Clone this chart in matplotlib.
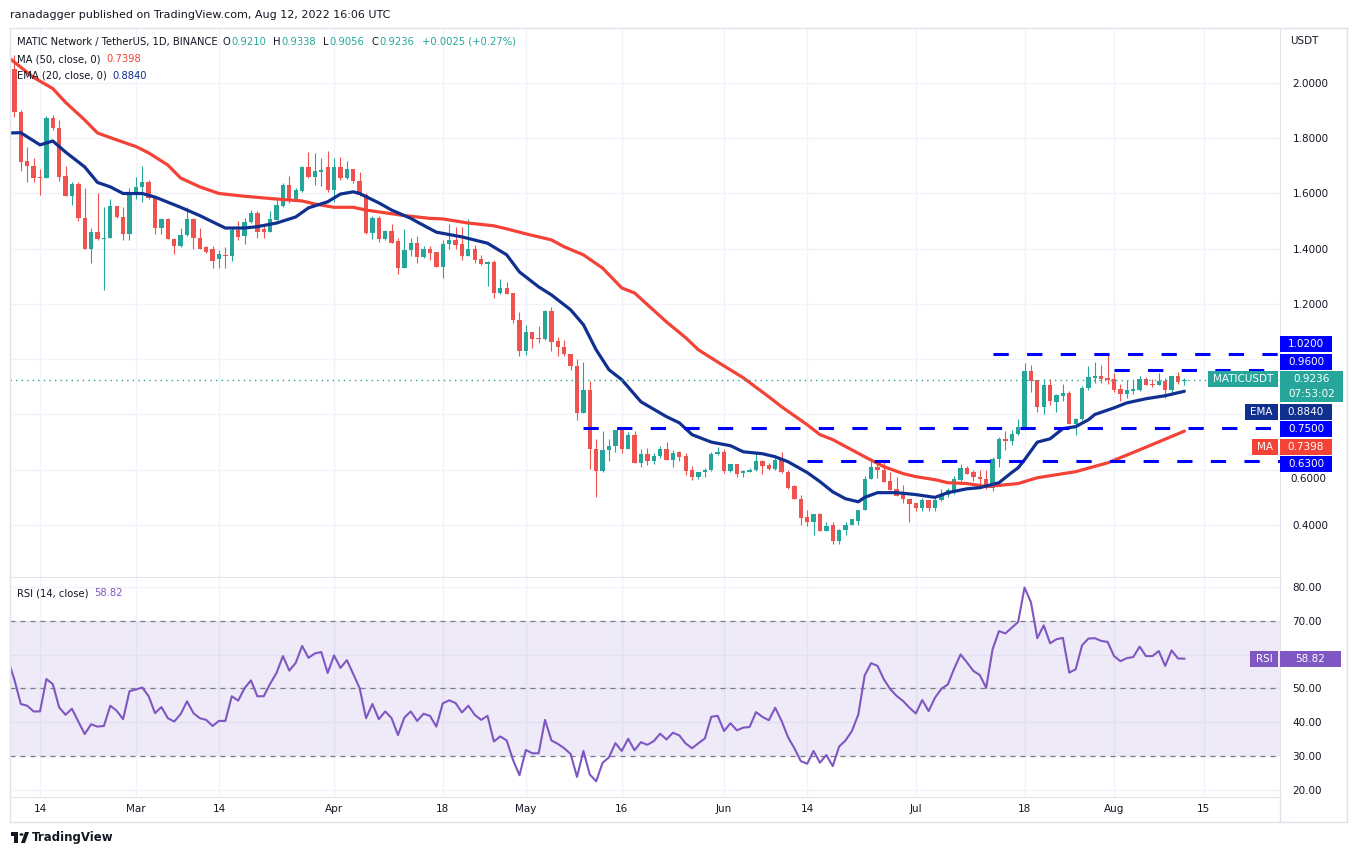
import numpy as np
import pandas as pd
import matplotlib
matplotlib.use("Agg")
import matplotlib.pyplot as plt
import matplotlib.dates as mdates
from matplotlib.patches import Rectangle, Polygon, Circle

W, H = 1358, 856

# daily candles 2022-02-09 .. 2022-08-12 (first one is cut by the left edge)
opens = [
    1.95, 2.05, 1.895, 1.717, 1.70, 1.66, 1.656, 1.873, 1.837, 1.663, 1.59, 1.635, 1.51, 1.40, 1.46, 1.435, 1.44, 1.553, 1.515, 1.455,
    1.605, 1.625, 1.64, 1.587, 1.475, 1.508, 1.435, 1.41, 1.45, 1.508, 1.44, 1.405, 1.40, 1.362, 1.378, 1.372, 1.468, 1.445, 1.497, 1.53, 1.472, 1.462, 1.505, 1.555, 1.63, 1.577, 1.61, 1.696, 1.66, 1.678, 1.696,
    1.614, 1.696, 1.656, 1.69, 1.646, 1.595, 1.457, 1.51, 1.435, 1.465, 1.428, 1.33, 1.396, 1.42, 1.37, 1.40, 1.388, 1.335, 1.418, 1.43, 1.418, 1.375, 1.40, 1.363, 1.345, 1.352, 1.24, 1.258, 1.24, 1.143,
    1.03, 1.10, 1.078, 1.075, 1.175, 1.066, 1.045, 1.02, 0.976, 0.806, 0.89, 0.676, 0.597, 0.67, 0.687, 0.745, 0.675, 0.727, 0.625, 0.658, 0.633, 0.65, 0.676, 0.637, 0.665, 0.648, 0.60, 0.572, 0.59, 0.598, 0.658,
    0.663, 0.597, 0.622, 0.588, 0.593, 0.60, 0.633, 0.617, 0.603, 0.637, 0.592, 0.542, 0.495, 0.428, 0.41, 0.44, 0.38, 0.40, 0.343, 0.382, 0.40, 0.416, 0.455, 0.566, 0.61, 0.60, 0.56, 0.53, 0.51, 0.495,
    0.48, 0.46, 0.492, 0.46, 0.49, 0.51, 0.526, 0.562, 0.607, 0.59, 0.572, 0.565, 0.535, 0.64, 0.71, 0.705, 0.73, 0.752, 0.958, 0.925, 0.828, 0.908, 0.847, 0.868, 0.878, 0.767, 0.782, 0.895, 0.933, 0.94, 0.933,
    0.93, 0.893, 0.875, 0.886, 0.89, 0.928, 0.912, 0.905, 0.922, 0.89, 0.94, 0.9210,
]
highs = [
    2.08, 2.10, 1.902, 1.77, 1.73, 1.69, 1.88, 1.885, 1.866, 1.70, 1.643, 1.64, 1.62, 1.475, 1.60, 1.55, 1.58, 1.555, 1.55, 1.62,
    1.66, 1.70, 1.65, 1.59, 1.51, 1.51, 1.44, 1.475, 1.55, 1.51, 1.475, 1.41, 1.41, 1.397, 1.405, 1.475, 1.50, 1.51, 1.54, 1.537, 1.485, 1.536, 1.575, 1.638, 1.665, 1.62, 1.70, 1.75, 1.745, 1.73, 1.755,
    1.73, 1.733, 1.718, 1.69, 1.678, 1.60, 1.52, 1.52, 1.468, 1.49, 1.44, 1.47, 1.44, 1.445, 1.41, 1.41, 1.39, 1.43, 1.49, 1.48, 1.48, 1.508, 1.415, 1.378, 1.355, 1.36, 1.29, 1.28, 1.24, 1.17,
    1.125, 1.10, 1.12, 1.178, 1.19, 1.08, 1.07, 1.02, 1.00, 0.99, 0.92, 0.713, 0.74, 0.71, 0.745, 0.75, 0.735, 0.74, 0.675, 0.678, 0.66, 0.687, 0.70, 0.67, 0.668, 0.66, 0.612, 0.593, 0.607, 0.665, 0.683,
    0.674, 0.622, 0.622, 0.60, 0.607, 0.66, 0.637, 0.625, 0.65, 0.664, 0.60, 0.545, 0.51, 0.455, 0.44, 0.445, 0.41, 0.41, 0.384, 0.412, 0.423, 0.455, 0.578, 0.635, 0.63, 0.63, 0.59, 0.575, 0.545, 0.495,
    0.48, 0.497, 0.492, 0.497, 0.532, 0.535, 0.578, 0.62, 0.612, 0.60, 0.60, 0.60, 0.647, 0.72, 0.74, 0.745, 0.785, 0.985, 0.98, 0.925, 0.93, 0.93, 0.875, 0.91, 0.885, 0.787, 0.903, 0.975, 0.99, 0.98, 1.02,
    0.95, 0.91, 0.925, 0.925, 0.94, 0.935, 0.93, 0.95, 0.932, 0.94, 0.955, 0.9338,
]
lows = [
    1.93, 1.877, 1.68, 1.64, 1.64, 1.595, 1.656, 1.83, 1.647, 1.59, 1.56, 1.50, 1.40, 1.35, 1.43, 1.25, 1.44, 1.51, 1.43, 1.43,
    1.58, 1.57, 1.58, 1.455, 1.455, 1.435, 1.38, 1.405, 1.445, 1.40, 1.40, 1.385, 1.33, 1.33, 1.33, 1.355, 1.43, 1.418, 1.495, 1.44, 1.44, 1.46, 1.503, 1.552, 1.565, 1.573, 1.607, 1.655, 1.63, 1.628, 1.607,
    1.57, 1.65, 1.652, 1.637, 1.59, 1.455, 1.437, 1.425, 1.433, 1.42, 1.31, 1.33, 1.373, 1.35, 1.365, 1.36, 1.335, 1.295, 1.40, 1.40, 1.36, 1.372, 1.35, 1.34, 1.266, 1.22, 1.235, 1.235, 1.13, 1.01,
    1.015, 1.04, 1.06, 1.07, 1.03, 1.01, 1.01, 0.96, 0.78, 0.806, 0.604, 0.503, 0.59, 0.63, 0.665, 0.66, 0.675, 0.623, 0.61, 0.617, 0.62, 0.642, 0.635, 0.61, 0.633, 0.58, 0.563, 0.565, 0.575, 0.597, 0.655,
    0.587, 0.592, 0.575, 0.575, 0.59, 0.597, 0.585, 0.60, 0.60, 0.587, 0.53, 0.495, 0.40, 0.395, 0.365, 0.378, 0.378, 0.33, 0.33, 0.365, 0.40, 0.40, 0.455, 0.565, 0.57, 0.555, 0.525, 0.505, 0.48, 0.41,
    0.45, 0.45, 0.45, 0.452, 0.488, 0.50, 0.513, 0.56, 0.585, 0.56, 0.55, 0.53, 0.522, 0.61, 0.67, 0.69, 0.725, 0.748, 0.88, 0.81, 0.80, 0.835, 0.81, 0.85, 0.765, 0.725, 0.78, 0.89, 0.915, 0.913, 0.91,
    0.883, 0.85, 0.86, 0.875, 0.885, 0.905, 0.90, 0.905, 0.86, 0.87, 0.91, 0.9056,
]
closes = [
    2.05, 1.895, 1.714, 1.70, 1.656, 1.656, 1.873, 1.837, 1.66, 1.59, 1.635, 1.51, 1.40, 1.46, 1.435, 1.44, 1.553, 1.515, 1.455, 1.605,
    1.625, 1.64, 1.585, 1.475, 1.508, 1.435, 1.41, 1.45, 1.508, 1.44, 1.40, 1.39, 1.355, 1.38, 1.372, 1.468, 1.443, 1.497, 1.53, 1.462, 1.462, 1.508, 1.558, 1.63, 1.573, 1.613, 1.696, 1.66, 1.68, 1.686, 1.613,
    1.696, 1.656, 1.69, 1.646, 1.595, 1.457, 1.51, 1.435, 1.465, 1.422, 1.33, 1.396, 1.42, 1.37, 1.40, 1.385, 1.335, 1.418, 1.43, 1.415, 1.375, 1.40, 1.36, 1.345, 1.352, 1.24, 1.258, 1.237, 1.143, 1.03,
    1.10, 1.075, 1.074, 1.175, 1.063, 1.045, 1.02, 0.974, 0.806, 0.89, 0.676, 0.597, 0.67, 0.687, 0.743, 0.675, 0.727, 0.625, 0.658, 0.633, 0.65, 0.676, 0.637, 0.66, 0.645, 0.597, 0.572, 0.59, 0.60, 0.658, 0.666,
    0.597, 0.622, 0.586, 0.597, 0.60, 0.633, 0.615, 0.603, 0.637, 0.59, 0.535, 0.495, 0.426, 0.41, 0.44, 0.38, 0.397, 0.343, 0.382, 0.40, 0.42, 0.455, 0.566, 0.61, 0.60, 0.557, 0.528, 0.506, 0.495, 0.477,
    0.462, 0.49, 0.46, 0.49, 0.512, 0.528, 0.565, 0.607, 0.586, 0.572, 0.565, 0.535, 0.64, 0.71, 0.705, 0.73, 0.755, 0.958, 0.922, 0.828, 0.908, 0.85, 0.872, 0.878, 0.767, 0.785, 0.897, 0.937, 0.94, 0.93, 0.925,
    0.89, 0.875, 0.89, 0.893, 0.928, 0.905, 0.908, 0.922, 0.89, 0.94, 0.918, 0.9236,
]
rsi = [
    58.5, 52.6, 45.4, 44.9, 43.2, 43.2, 52.8, 51.3, 44.4, 42.2, 44.0, 40.2, 36.5, 39.4, 38.7, 38.9, 44.9, 43.4, 40.9, 49.2,
    49.7, 50.3, 47.7, 42.7, 44.5, 41.2, 40.2, 42.4, 46.2, 42.7, 41.2, 40.7, 38.9, 40.4, 40.4, 47.7, 46.4, 50.1, 52.4, 47.7, 47.7, 51.4, 54.6, 59.6, 55.3, 57.6, 62.6, 59.1, 60.4, 60.8, 54.6,
    59.8, 56.1, 58.4, 54.3, 50.1, 41.2, 45.4, 40.9, 43.2, 41.2, 36.2, 41.4, 43.2, 40.4, 42.5, 41.9, 38.7, 45.6, 46.5, 45.7, 42.9, 44.9, 42.2, 40.7, 41.9, 34.3, 35.8, 34.6, 28.8, 24.3,
    31.8, 30.8, 30.8, 40.7, 34.6, 33.6, 32.3, 30.6, 23.8, 31.5, 24.5, 22.5, 28.0, 29.6, 33.8, 31.5, 35.1, 31.7, 34.1, 33.3, 34.4, 36.6, 34.9, 36.9, 36.1, 33.7, 32.3, 33.8, 35.2, 41.6, 41.9,
    37.4, 39.7, 37.6, 38.4, 38.6, 43.0, 41.6, 40.6, 44.3, 40.4, 35.6, 32.3, 28.5, 27.7, 31.5, 28.0, 30.3, 27.0, 32.8, 34.6, 37.4, 42.3, 53.9, 57.5, 56.7, 52.7, 49.8, 47.8, 46.3, 44.3,
    42.6, 46.6, 43.3, 47.3, 49.9, 51.2, 55.9, 60.1, 57.7, 55.2, 54.0, 50.2, 61.6, 67.0, 66.3, 68.0, 69.7, 79.9, 75.6, 64.9, 68.7, 63.4, 64.6, 65.0, 54.7, 55.7, 62.8, 64.8, 64.9, 64.1, 63.8,
    59.6, 58.1, 59.0, 59.3, 62.4, 59.6, 59.6, 61.1, 56.7, 61.3, 58.9, 58.82,
]

# MA(50) and EMA(20) at a subset of days
ma_dates = ["2022-02-09", "2022-02-13", "2022-02-16", "2022-02-18", "2022-02-21", "2022-02-23", "2022-02-26",
            "2022-03-01", "2022-03-03", "2022-03-06", "2022-03-08", "2022-03-11", "2022-03-14", "2022-03-18", "2022-03-23", "2022-03-27", "2022-03-29",
            "2022-04-01", "2022-04-04", "2022-04-06", "2022-04-09", "2022-04-12", "2022-04-16", "2022-04-18", "2022-04-22", "2022-04-26", "2022-04-28",
            "2022-05-01", "2022-05-05", "2022-05-07", "2022-05-10", "2022-05-13", "2022-05-16", "2022-05-18", "2022-05-23", "2022-05-26", "2022-05-28", "2022-05-31",
            "2022-06-04", "2022-06-08", "2022-06-10", "2022-06-14", "2022-06-16", "2022-06-18", "2022-06-23", "2022-06-26", "2022-06-29",
            "2022-07-01", "2022-07-04", "2022-07-06", "2022-07-09", "2022-07-12", "2022-07-17", "2022-07-20", "2022-07-26", "2022-07-31",
            "2022-08-05", "2022-08-12"]
ma_vals = [2.094, 2.02, 1.98, 1.93, 1.866, 1.819, 1.794,
           1.77, 1.747, 1.703, 1.656, 1.624, 1.60, 1.59, 1.58, 1.573, 1.562,
           1.55, 1.55, 1.54, 1.53, 1.52, 1.51, 1.508, 1.493, 1.483, 1.472,
           1.454, 1.432, 1.407, 1.378, 1.33, 1.258, 1.24, 1.135, 1.078, 1.034, 0.99,
           0.933, 0.864, 0.828, 0.763, 0.727, 0.709, 0.647, 0.611, 0.586,
           0.575, 0.564, 0.553, 0.55, 0.539, 0.55, 0.571, 0.593, 0.625,
           0.672, 0.7398]
ema_dates = ["2022-02-09", "2022-02-11", "2022-02-14", "2022-02-16", "2022-02-18", "2022-02-21", "2022-02-23", "2022-02-25", "2022-02-27",
             "2022-03-02", "2022-03-04", "2022-03-08", "2022-03-11", "2022-03-14", "2022-03-15", "2022-03-18", "2022-03-20", "2022-03-23", "2022-03-26", "2022-03-28", "2022-03-31",
             "2022-04-02", "2022-04-04", "2022-04-05", "2022-04-08", "2022-04-10", "2022-04-13", "2022-04-14", "2022-04-17", "2022-04-21", "2022-04-25", "2022-04-28", "2022-04-30",
             "2022-05-03", "2022-05-05", "2022-05-08", "2022-05-10", "2022-05-12", "2022-05-14", "2022-05-16", "2022-05-19", "2022-05-23", "2022-05-25", "2022-05-27", "2022-05-30",
             "2022-06-02", "2022-06-04", "2022-06-07", "2022-06-09", "2022-06-11", "2022-06-14", "2022-06-16", "2022-06-18", "2022-06-20", "2022-06-22", "2022-06-23", "2022-06-25", "2022-06-28",
             "2022-07-01", "2022-07-04", "2022-07-06", "2022-07-09", "2022-07-11", "2022-07-14", "2022-07-16", "2022-07-17", "2022-07-18", "2022-07-20", "2022-07-22", "2022-07-24", "2022-07-26", "2022-07-28", "2022-07-29",
             "2022-08-01", "2022-08-03", "2022-08-06", "2022-08-09", "2022-08-12"]
ema_vals = [1.819, 1.82, 1.776, 1.79, 1.75, 1.696, 1.64, 1.624, 1.60,
            1.60, 1.587, 1.55, 1.52, 1.486, 1.475, 1.475, 1.48, 1.493, 1.515, 1.548, 1.57,
            1.598, 1.606, 1.60, 1.566, 1.54, 1.51, 1.497, 1.46, 1.443, 1.42, 1.378, 1.316,
            1.262, 1.233, 1.179, 1.125, 1.034, 0.962, 0.926, 0.846, 0.792, 0.77, 0.727, 0.70,
            0.687, 0.665, 0.658, 0.647, 0.629, 0.59, 0.557, 0.52, 0.495, 0.484, 0.50, 0.517, 0.517,
            0.51, 0.50, 0.517, 0.531, 0.535, 0.553, 0.59, 0.607, 0.636, 0.70, 0.712, 0.749, 0.756, 0.781, 0.80,
            0.824, 0.842, 0.857, 0.868, 0.884]

levels = [1.02, 0.96, 0.75, 0.63]
level_start = ["2022-07-13", "2022-08-01", "2022-05-10", "2022-06-14"]

tick_dates = ["2022-02-14", "2022-03-01", "2022-03-14", "2022-04-01", "2022-04-18", "2022-05-01", "2022-05-16",
              "2022-06-01", "2022-06-14", "2022-07-01", "2022-07-18", "2022-08-01", "2022-08-15"]
tick_labels = ["14", "Mar", "14", "Apr", "18", "May", "16", "Jun", "14", "Jul", "18", "Aug", "15"]
price_ticks = [0.4, 0.6, 0.8, 1.0, 1.2, 1.4, 1.6, 1.8, 2.0]
rsi_ticks = [20, 30, 40, 50, 60, 70, 80]

GREEN = "#26a69a"
RED = "#ef5350"
MA_C = "#f44336"
EMA_C = "#10308f"
LEVEL_C = "#0000ff"
RSI_C = "#7e57c2"
TEXT = "#131722"
GRID = "#f0f3fa"
BORDER = "#e0e3eb"

plt.rcParams["font.family"] = ["DejaVu Sans"]
FS = 7.5
HFS = 7.2

dates = pd.date_range("2022-02-09", "2022-08-12", freq="D")
x = mdates.date2num(dates)
o = np.array(opens); h = np.array(highs); l = np.array(lows); c = np.array(closes)

fig = plt.figure(figsize=(W / 100, H / 100), dpi=100)
ax = fig.add_axes([10 / W, 1 - 577 / H, 1270 / W, 549 / H])
axr = fig.add_axes([10 / W, 1 - 797 / H, 1270 / W, 219 / H], sharex=ax)

feb14 = mdates.date2num(pd.Timestamp("2022-02-14"))
ax.set_xlim(feb14 - 4.69, feb14 + 193.96)
ax.set_ylim(0.2117, 2.1991)
axr.set_ylim(17.85, 82.74)

# candles
up = c >= o
col = np.where(up, GREEN, RED)
ax.vlines(x, l, h, colors=col, lw=0.8, zorder=2)
ax.bar(x, np.maximum(np.abs(c - o), 0.003), bottom=np.minimum(o, c), width=0.68,
       color=col, linewidth=0, zorder=3)

# moving averages
ax.plot(mdates.date2num(pd.to_datetime(ma_dates)), ma_vals, color=MA_C, lw=2.3, zorder=4,
        solid_capstyle="round")
ax.plot(mdates.date2num(pd.to_datetime(ema_dates)), ema_vals, color=EMA_C, lw=2.3, zorder=4,
        solid_capstyle="round")

# horizontal levels
x_right = ax.get_xlim()[1]
for lv, st in zip(levels, level_start):
    ax.plot([mdates.date2num(pd.Timestamp(st)), x_right], [lv, lv], color=LEVEL_C,
            lw=2.2, ls=(0, (5, 6)), zorder=5)
ax.axhline(closes[-1], color=GREEN, lw=1.0, ls=(0, (1, 3)), zorder=5)

# axes styling
tick_x = mdates.date2num(pd.to_datetime(tick_dates))
for a in (ax, axr):
    a.set_xticks(tick_x)
    a.grid(True, color=GRID, lw=1, zorder=0)
    a.set_axisbelow(True)
    a.yaxis.tick_right()
    a.tick_params(axis="y", length=0, pad=9, labelsize=FS, labelcolor=TEXT)
    for s in ("top", "left"):
        a.spines[s].set_visible(False)
    a.spines["right"].set_color(BORDER)
    a.spines["bottom"].set_color(BORDER)
ax.tick_params(axis="x", length=0, labelbottom=False)
axr.set_xticklabels(tick_labels)
axr.tick_params(axis="x", length=0, pad=5, labelsize=FS, labelcolor=TEXT)
ax.set_yticks(price_ticks)
axr.set_yticks(rsi_ticks)

# RSI pane
axr.axhspan(30, 70, color=RSI_C, alpha=0.12, lw=0, zorder=1)
for lv in (70, 50, 30):
    axr.axhline(lv, color="#787b86", lw=0.9, ls=(0, (4, 4)), zorder=2)
axr.plot(x, rsi, color=RSI_C, lw=1.5, zorder=3)


def fx(px):
    return px / W


def fy(py):
    return 1 - py / H


def box(x0, x1, top, hgt, color, lines, size=FS):
    fig.add_artist(Rectangle((fx(x0), fy(top + hgt)), (x1 - x0) / W, hgt / H,
                             transform=fig.transFigure, facecolor=color,
                             edgecolor="none", zorder=10))
    for i, t in enumerate(lines):
        fig.text(fx((x0 + x1) / 2), fy(top + 8 + i * 15), t, ha="center", va="center",
                 color="white", fontsize=size, zorder=11)


def ypix(a, v):
    return H - a.transData.transform((a.get_xlim()[0], v))[1]


# right-hand price labels, stacked so they do not overlap
GAP = 1.5
items = [dict(v=lv, h=16, kind="level") for lv in levels]
items.append(dict(v=closes[-1], h=31, kind="price"))
items.append(dict(v=ema_vals[-1], h=16, kind="ema"))
items.append(dict(v=ma_vals[-1], h=16, kind="ma"))
for it in items:
    it["ideal"] = ypix(ax, it["v"]) - 5


def block_top(b):
    off, s = 0, 0
    for it in b:
        s += it["ideal"] - off
        off += it["h"] + GAP
    return s / len(b)


blocks = []
for it in sorted(items, key=lambda d: d["ideal"]):
    blocks.append([it])
    while len(blocks) > 1:
        prev = blocks[-2]
        bottom = block_top(prev) + sum(i["h"] + GAP for i in prev)
        if block_top(blocks[-1]) < bottom:
            last = blocks.pop()
            blocks[-1].extend(last)
        else:
            break
for b in blocks:
    t = block_top(b)
    for it in b:
        it["top"] = t
        t += it["h"] + GAP

for it in items:
    t = it["top"]
    if it["kind"] == "level":
        box(1280, 1332, t, 16, LEVEL_C, [f"{it['v']:.4f}"])
    elif it["kind"] == "price":
        box(1280, 1343, t, 31, GREEN, [f"{it['v']:.4f}", "07:53:02"])
        box(1208, 1278, t, 16, GREEN, ["MATICUSDT"])
    elif it["kind"] == "ema":
        box(1280, 1332, t, 16, EMA_C, [f"{it['v']:.4f}"])
        box(1245, 1278, t, 16, EMA_C, ["EMA"])
    else:
        box(1280, 1332, t, 16, MA_C, [f"{it['v']:.4f}"])
        box(1252, 1278, t, 16, MA_C, ["MA"])

ry = ypix(axr, rsi[-1]) - 8
box(1280, 1341, ry, 16, RSI_C, [f"{rsi[-1]:.2f}"])
box(1250, 1278, ry, 16, RSI_C, ["RSI"])

# scale labels under a label box: hidden when fully covered,
# nudged just below the box when it only clips them (as 0.6000 on the original)
spans = [(it["top"], it["h"]) for it in items]
price_lbls = []
for v in price_ticks:
    yv = ypix(ax, v)
    hit = [(t, hh) for t, hh in spans if t - 5 <= yv <= t + hh + 5]
    if not hit:
        price_lbls.append(f"{v:.4f}")
        continue
    price_lbls.append("")
    t, hh = hit[0]
    if yv > t + hh - 4:
        fig.text(fx(1290), fy(t + hh + 6.5), f"{v:.4f}", fontsize=FS, color=TEXT,
                 va="center", ha="left")
ax.set_yticklabels(price_lbls)
axr.set_yticklabels(["" if ry - 5 <= ypix(axr, v) <= ry + 21 else f"{v:.2f}" for v in rsi_ticks])

# header texts
renderer = fig.canvas.get_renderer()


def row(x0, y, pieces, size=HFS):
    px = x0
    for text, color, gap in pieces:
        px += gap
        t = fig.text(fx(px), fy(y), text, color=color, fontsize=size, ha="left", va="center",
                     zorder=12)
        px = t.get_window_extent(renderer).x1


fig.text(fx(10), fy(15), "ranadagger published on TradingView.com, Aug 12, 2022 16:06 UTC",
         fontsize=8, color=TEXT, va="center")
row(17, 42, [("MATIC Network / TetherUS, 1D, BINANCE", TEXT, 0),
             ("O", TEXT, 5), (f"{opens[-1]:.4f}", GREEN, 1),
             ("H", TEXT, 7), (f"{highs[-1]:.4f}", GREEN, 1),
             ("L", TEXT, 7), (f"{lows[-1]:.4f}", GREEN, 1),
             ("C", TEXT, 7), (f"{closes[-1]:.4f}", GREEN, 1),
             ("+0.0025 (+0.27%)", GREEN, 7)])
row(17, 59, [("MA (50, close, 0)", TEXT, 0), (f"{ma_vals[-1]:.4f}", MA_C, 6)])
row(17, 76, [("EMA (20, close, 0)", TEXT, 0), (f"{ema_vals[-1]:.4f}", EMA_C, 6)])
row(17, 593, [("RSI (14, close)", TEXT, 0), (f"{rsi[-1]:.2f}", RSI_C, 6)])
fig.text(fx(1290), fy(41), "USDT", fontsize=FS, color=TEXT, va="center")

# frame
for (x0, y0, x1, y1) in [(10, 28, 1347, 28), (10, 28, 10, 822), (1347, 28, 1347, 822),
                         (10, 822, 1347, 822), (1280, 797, 1280, 822)]:
    fig.add_artist(plt.Line2D([fx(x0), fx(x1)], [fy(y0), fy(y1)], color=BORDER, lw=1,
                              transform=fig.transFigure))

# TradingView logo
fig.add_artist(Rectangle((fx(11), fy(836)), 7 / W, 4 / H, transform=fig.transFigure,
                         facecolor=TEXT, edgecolor="none"))
fig.add_artist(Rectangle((fx(14), fy(843)), 4 / W, 11 / H, transform=fig.transFigure,
                         facecolor=TEXT, edgecolor="none"))
fig.add_artist(Circle((fx(21.5), fy(834.5)), 2 / W, transform=fig.transFigure,
                      facecolor=TEXT, edgecolor="none"))
fig.add_artist(Polygon([(fx(25), fy(832)), (fx(29), fy(832)), (fx(25), fy(843)), (fx(21), fy(843))],
                       closed=True, transform=fig.transFigure, facecolor=TEXT, edgecolor="none"))
fig.text(fx(32), fy(838), "TradingView", fontsize=8.5, fontweight="bold", color=TEXT, va="center")

fig.savefig("out.png", dpi=100)
